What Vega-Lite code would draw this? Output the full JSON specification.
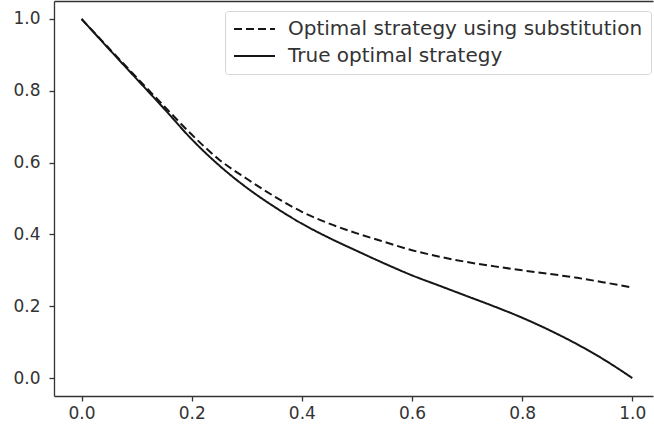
{
  "$schema": "https://vega.github.io/schema/vega-lite/v6.json",
  "width": 599,
  "height": 395,
  "autosize": {"type": "none"},
  "padding": {"left": 54, "top": 1, "right": 1, "bottom": 38},
  "background": "white",
  "config": {
    "view": {"stroke": null},
    "font": "DejaVu Sans",
    "axis": {
      "grid": false,
      "title": null,
      "domainColor": "#333333",
      "domainWidth": 1.3,
      "tickColor": "#333333",
      "tickWidth": 1.3,
      "tickSize": 5,
      "labelColor": "#333333",
      "labelFont": "DejaVu Sans",
      "labelFontSize": 17
    },
    "legend": {
      "labelFont": "DejaVu Sans",
      "labelFontSize": 20,
      "labelColor": "#333333",
      "labelLimit": 0
    }
  },
  "datasets": {
    "curves": [
      {"x": 0.00, "y": 1.000, "series": "Optimal strategy using substitution"},
      {"x": 0.05, "y": 0.918, "series": "Optimal strategy using substitution"},
      {"x": 0.10, "y": 0.837, "series": "Optimal strategy using substitution"},
      {"x": 0.15, "y": 0.757, "series": "Optimal strategy using substitution"},
      {"x": 0.20, "y": 0.678, "series": "Optimal strategy using substitution"},
      {"x": 0.25, "y": 0.608, "series": "Optimal strategy using substitution"},
      {"x": 0.30, "y": 0.555, "series": "Optimal strategy using substitution"},
      {"x": 0.35, "y": 0.506, "series": "Optimal strategy using substitution"},
      {"x": 0.40, "y": 0.463, "series": "Optimal strategy using substitution"},
      {"x": 0.45, "y": 0.430, "series": "Optimal strategy using substitution"},
      {"x": 0.50, "y": 0.403, "series": "Optimal strategy using substitution"},
      {"x": 0.55, "y": 0.379, "series": "Optimal strategy using substitution"},
      {"x": 0.60, "y": 0.356, "series": "Optimal strategy using substitution"},
      {"x": 0.65, "y": 0.338, "series": "Optimal strategy using substitution"},
      {"x": 0.70, "y": 0.323, "series": "Optimal strategy using substitution"},
      {"x": 0.75, "y": 0.311, "series": "Optimal strategy using substitution"},
      {"x": 0.80, "y": 0.300, "series": "Optimal strategy using substitution"},
      {"x": 0.85, "y": 0.290, "series": "Optimal strategy using substitution"},
      {"x": 0.90, "y": 0.279, "series": "Optimal strategy using substitution"},
      {"x": 0.95, "y": 0.266, "series": "Optimal strategy using substitution"},
      {"x": 1.00, "y": 0.252, "series": "Optimal strategy using substitution"},
      {"x": 0.00, "y": 1.000, "series": "True optimal strategy"},
      {"x": 0.05, "y": 0.916, "series": "True optimal strategy"},
      {"x": 0.10, "y": 0.833, "series": "True optimal strategy"},
      {"x": 0.15, "y": 0.750, "series": "True optimal strategy"},
      {"x": 0.20, "y": 0.665, "series": "True optimal strategy"},
      {"x": 0.25, "y": 0.592, "series": "True optimal strategy"},
      {"x": 0.30, "y": 0.530, "series": "True optimal strategy"},
      {"x": 0.35, "y": 0.477, "series": "True optimal strategy"},
      {"x": 0.40, "y": 0.430, "series": "True optimal strategy"},
      {"x": 0.45, "y": 0.390, "series": "True optimal strategy"},
      {"x": 0.50, "y": 0.354, "series": "True optimal strategy"},
      {"x": 0.55, "y": 0.319, "series": "True optimal strategy"},
      {"x": 0.60, "y": 0.286, "series": "True optimal strategy"},
      {"x": 0.65, "y": 0.257, "series": "True optimal strategy"},
      {"x": 0.70, "y": 0.228, "series": "True optimal strategy"},
      {"x": 0.75, "y": 0.199, "series": "True optimal strategy"},
      {"x": 0.80, "y": 0.168, "series": "True optimal strategy"},
      {"x": 0.85, "y": 0.133, "series": "True optimal strategy"},
      {"x": 0.90, "y": 0.094, "series": "True optimal strategy"},
      {"x": 0.95, "y": 0.050, "series": "True optimal strategy"},
      {"x": 1.00, "y": 0.000, "series": "True optimal strategy"}
    ]
  },
  "data": {"name": "curves"},
  "resolve": {"axis": {"x": "independent"}},
  "layer": [
    {
      "mark": {"type": "line", "color": "#151515", "strokeWidth": 2, "interpolate": "monotone"},
      "encoding": {
        "x": {
          "field": "x",
          "type": "quantitative",
          "scale": {"domain": [-0.05, 1.0376], "nice": false, "zero": false},
          "axis": {"orient": "bottom", "values": [0, 0.2, 0.4, 0.6, 0.8, 1.0], "format": ".1f", "labelPadding": 4}
        },
        "y": {
          "field": "y",
          "type": "quantitative",
          "scale": {"domain": [-0.05, 1.05], "nice": false, "zero": false},
          "axis": {"values": [0, 0.2, 0.4, 0.6, 0.8, 1.0], "format": ".1f", "labelPadding": 9}
        },
        "strokeDash": {
          "field": "series",
          "type": "nominal",
          "scale": {
            "domain": ["Optimal strategy using substitution", "True optimal strategy"],
            "range": [[8, 4], [1, 0]]
          },
          "legend": {
            "title": null,
            "orient": "none",
            "legendX": 171,
            "legendY": 10,
            "symbolType": "stroke",
            "symbolSize": 1681,
            "symbolStrokeWidth": 2,
            "symbolStrokeColor": "#151515",
            "clipHeight": 20,
            "rowPadding": 7,
            "labelOffset": 12,
            "labelLimit": 0,
            "padding": 8,
            "strokeColor": "#d6d6d6",
            "fillColor": "white",
            "cornerRadius": 3
          }
        }
      }
    },
    {
      "mark": {"type": "point", "opacity": 0},
      "encoding": {
        "x": {
          "field": "x",
          "type": "quantitative",
          "scale": {"domain": [-0.05, 1.0376], "nice": false, "zero": false},
          "axis": {"orient": "top", "labels": false, "ticks": false}
        }
      }
    }
  ]
}
